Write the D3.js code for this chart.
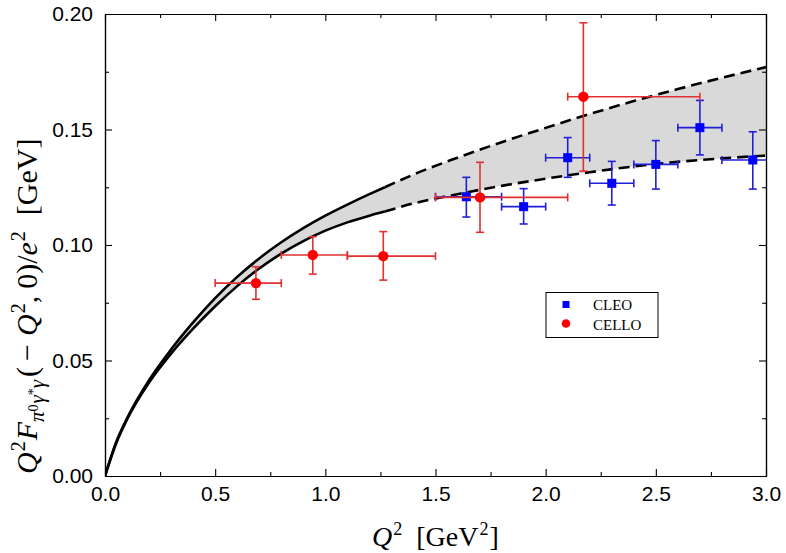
<!DOCTYPE html>
<html>
<head>
<meta charset="utf-8">
<script src="https://cdn.jsdelivr.net/npm/d3@7"></script>
<style>
  html, body { margin: 0; padding: 0; background: #fff; }
  svg { display: block; }
</style>
</head>
<body>
<svg id="chart" width="786" height="553"></svg>
<script>
// ---- Data ----
const curveX     = [0, 0.05, 0.1, 0.2, 0.3, 0.4, 0.5, 0.6, 0.7, 0.8, 0.9, 1.0, 1.1, 1.2, 1.27, 1.4, 1.6, 1.8, 2.0, 2.2, 2.4, 2.6, 2.8, 3.0];
const upperCurve = [0, 0.0145, 0.025, 0.0415, 0.0548, 0.0665, 0.077, 0.0862, 0.0942, 0.1012, 0.1073, 0.1127, 0.1175, 0.122, 0.125, 0.1305, 0.1378, 0.1445, 0.1507, 0.1567, 0.1623, 0.1675, 0.1724, 0.177];
const lowerCurve = [0, 0.014, 0.0245, 0.0405, 0.053, 0.0638, 0.0735, 0.0822, 0.0898, 0.0963, 0.1017, 0.1062, 0.1098, 0.1127, 0.1145, 0.118, 0.122, 0.1256, 0.1287, 0.1315, 0.134, 0.136, 0.1375, 0.1387];
const solidUntil = 1.27;

const celloX   = [0.685, 0.943, 1.263, 1.702, 2.171];
const celloY   = [0.0835, 0.0957, 0.0952, 0.1206, 0.1642];
const celloXLo = [0.50, 0.80, 1.10, 1.50, 2.10];
const celloXHi = [0.80, 1.10, 1.50, 2.10, 2.70];
const celloYLo = [0.0765, 0.0874, 0.0848, 0.1055, 0.132];
const celloYHi = [0.0906, 0.1036, 0.1058, 0.1358, 0.1962];

const cleoX   = [1.64, 1.90, 2.10, 2.30, 2.50, 2.70, 2.94];
const cleoY   = [0.1209, 0.1166, 0.1378, 0.1267, 0.1349, 0.1508, 0.1368];
const cleoXLo = [1.50, 1.80, 2.00, 2.20, 2.40, 2.60, 2.80];
const cleoXHi = [1.80, 2.00, 2.20, 2.40, 2.60, 2.80, 3.10];
const cleoYLo = [0.1121, 0.1091, 0.1293, 0.1173, 0.1242, 0.139, 0.1242];
const cleoYHi = [0.1293, 0.1244, 0.1465, 0.1362, 0.1452, 0.1626, 0.149];

const xTicks = [0, 0.5, 1.0, 1.5, 2.0, 2.5, 3.0];
const xMinor = [0.25, 0.75, 1.25, 1.75, 2.25, 2.75];
const yTicks = [0, 0.05, 0.10, 0.15, 0.20];
const yMinor = [0.025, 0.075, 0.125, 0.175];
const legendLabels = ["CLEO", "CELLO"];

// ---- Layout ----
const L = 105, R = 766, T = 14, B = 476;
const svg = d3.select("#chart");
const x = d3.scaleLinear().domain([0, 3]).range([L, R]);
const y = d3.scaleLinear().domain([0, 0.2]).range([B, T]);

svg.append("defs").append("clipPath").attr("id", "plotclip")
  .append("rect").attr("x", L).attr("y", T).attr("width", R - L).attr("height", B - T);

const plot = svg.append("g").attr("clip-path", "url(#plotclip)");

const pts = curveX.map((v, i) => ({x: v, u: upperCurve[i], l: lowerCurve[i]}));

// band
plot.append("path")
  .datum(pts)
  .attr("fill", "#d9d9d9")
  .attr("d", d3.area().x(d => x(d.x)).y0(d => y(d.l)).y1(d => y(d.u)).curve(d3.curveMonotoneX));

const solidPts = pts.filter(d => d.x <= solidUntil);
const dashPts = pts.filter(d => d.x >= solidUntil);
["u", "l"].forEach(k => {
  const line = d3.line().x(d => x(d.x)).y(d => y(d[k])).curve(d3.curveMonotoneX);
  plot.append("path").datum(solidPts).attr("fill", "none").attr("stroke", "#000")
    .attr("stroke-width", 2.6).attr("d", line);
  plot.append("path").datum(dashPts).attr("fill", "none").attr("stroke", "#000")
    .attr("stroke-width", 2.6).attr("stroke-dasharray", "11,6").attr("d", line);
});

// error bars
function errorBars(xs, ys, xlo, xhi, ylo, yhi, color) {
  const g = plot.append("g").attr("stroke", color).attr("stroke-width", 1.6).attr("fill", "none");
  const cap = 4;
  xs.forEach((xv, i) => {
    const px = x(xv), py = y(ys[i]);
    g.append("line").attr("x1", x(xlo[i])).attr("x2", x(xhi[i])).attr("y1", py).attr("y2", py);
    g.append("line").attr("x1", x(xlo[i])).attr("x2", x(xlo[i])).attr("y1", py - cap).attr("y2", py + cap);
    g.append("line").attr("x1", x(xhi[i])).attr("x2", x(xhi[i])).attr("y1", py - cap).attr("y2", py + cap);
    g.append("line").attr("x1", px).attr("x2", px).attr("y1", y(ylo[i])).attr("y2", y(yhi[i]));
    g.append("line").attr("x1", px - cap).attr("x2", px + cap).attr("y1", y(ylo[i])).attr("y2", y(ylo[i]));
    g.append("line").attr("x1", px - cap).attr("x2", px + cap).attr("y1", y(yhi[i])).attr("y2", y(yhi[i]));
  });
}
errorBars(cleoX, cleoY, cleoXLo, cleoXHi, cleoYLo, cleoYHi, "#1f1fd6");
plot.append("g").selectAll("rect").data(cleoX).join("rect")
  .attr("x", (d) => x(d) - 4.5).attr("y", (d, i) => y(cleoY[i]) - 4.5)
  .attr("width", 9).attr("height", 9).attr("fill", "#0000ff");
errorBars(celloX, celloY, celloXLo, celloXHi, celloYLo, celloYHi, "#e23030");
plot.append("g").selectAll("circle").data(celloX).join("circle")
  .attr("cx", d => x(d)).attr("cy", (d, i) => y(celloY[i])).attr("r", 5.2).attr("fill", "#ff0000");

// ---- Axes ----
const fontSans = "'Liberation Sans', Arial, Helvetica, sans-serif";
const major = 7, minor = 4;
function styleAxis(g) {
  g.select(".domain").attr("stroke", "#000").attr("stroke-width", 1.2);
  g.selectAll(".tick line").attr("stroke", "#000").attr("stroke-width", 1.1);
  g.selectAll("text").attr("font-family", fontSans).attr("font-size", 21).attr("fill", "#000");
}
svg.append("g").attr("transform", `translate(0,${B})`)
  .call(d3.axisBottom(x).tickValues(xTicks).tickFormat(d3.format(".1f")).tickSize(-major).tickPadding(10).tickSizeOuter(0))
  .call(styleAxis);
svg.append("g").attr("transform", `translate(0,${B})`)
  .call(d3.axisBottom(x).tickValues(xMinor).tickFormat("").tickSize(-minor).tickSizeOuter(0))
  .call(styleAxis);
svg.append("g").attr("transform", `translate(0,${T})`)
  .call(d3.axisTop(x).tickValues(xTicks).tickFormat("").tickSize(-major).tickSizeOuter(0))
  .call(styleAxis);
svg.append("g").attr("transform", `translate(0,${T})`)
  .call(d3.axisTop(x).tickValues(xMinor).tickFormat("").tickSize(-minor).tickSizeOuter(0))
  .call(styleAxis);
svg.append("g").attr("transform", `translate(${L},0)`)
  .call(d3.axisLeft(y).tickValues(yTicks).tickFormat(d3.format(".2f")).tickSize(-major).tickPadding(12).tickSizeOuter(0))
  .call(styleAxis);
svg.append("g").attr("transform", `translate(${L},0)`)
  .call(d3.axisLeft(y).tickValues(yMinor).tickFormat("").tickSize(-minor).tickSizeOuter(0))
  .call(styleAxis);
svg.append("g").attr("transform", `translate(${R},0)`)
  .call(d3.axisRight(y).tickValues(yTicks).tickFormat("").tickSize(-major).tickSizeOuter(0))
  .call(styleAxis);
svg.append("g").attr("transform", `translate(${R},0)`)
  .call(d3.axisRight(y).tickValues(yMinor).tickFormat("").tickSize(-minor).tickSizeOuter(0))
  .call(styleAxis);

// ---- Axis titles ----
const serif = "'Liberation Serif', 'DejaVu Serif', 'Times New Roman', serif";
const xt = svg.append("text").attr("x", 372).attr("y", 546)
  .attr("font-family", serif).attr("font-size", 28).attr("fill", "#000");
xt.append("tspan").attr("font-style", "italic").text("Q");
xt.append("tspan").attr("font-size", 18).attr("dy", -11).attr("dx", 1).text("2");
xt.append("tspan").attr("dy", 11).attr("dx", 14).text("[GeV");
xt.append("tspan").attr("font-size", 18).attr("dy", -11).attr("dx", 1).text("2");
xt.append("tspan").attr("dy", 11).attr("dx", 1).text("]");

const yt = svg.append("text").attr("transform", "translate(37,474) rotate(-90)")
  .attr("text-anchor", "start").attr("font-family", serif).attr("font-size", 30).attr("fill", "#000");
const parts = [
  {t: "Q", it: true},
  {t: "2", fs: 20, dy: -12, dx: 1},
  {t: "F", it: true, dy: 12, dx: 1},
  {t: "π", it: true, fs: 21, dy: 7},
  {t: "0", fs: 14, dy: -6},
  {t: "γ", it: true, fs: 21, dy: 6, dx: 1},
  {t: "*", fs: 14, dy: -6},
  {t: "γ", it: true, fs: 21, dy: 6},
  {t: "(", dy: -7, dx: 3},
  {t: "\u2212", dx: 6},
  {t: "Q", it: true, dx: 8},
  {t: "2", fs: 20, dy: -12, dx: 1},
  {t: ",", dy: 12},
  {t: "0)/", dx: 7},
  {t: "e", it: true},
  {t: "2", fs: 20, dy: -12, dx: 1},
  {t: "[GeV]", dy: 12, dx: 16}
];
parts.forEach(p => {
  const s = yt.append("tspan").text(p.t);
  if (p.it) s.attr("font-style", "italic");
  if (p.fs) s.attr("font-size", p.fs);
  if (p.dy) s.attr("dy", p.dy);
  if (p.dx) s.attr("dx", p.dx);
});

// ---- Legend ----
const lg = svg.append("g");
lg.append("rect").attr("x", 546).attr("y", 292.5).attr("width", 112).attr("height", 45)
  .attr("fill", "#fff").attr("stroke", "#000").attr("stroke-width", 1);
lg.append("rect").attr("x", 566 - 3.5).attr("y", 304.5 - 3.5).attr("width", 7).attr("height", 7).attr("fill", "#0000ff");
lg.append("circle").attr("cx", 566).attr("cy", 323.5).attr("r", 4.3).attr("fill", "#ff0000");
lg.selectAll("text.lab").data(legendLabels).join("text")
  .attr("x", 593).attr("y", (d, i) => 310 + i * 19.5)
  .attr("font-family", serif).attr("font-size", 15).attr("fill", "#000").text(d => d);
</script>
</body>
</html>
